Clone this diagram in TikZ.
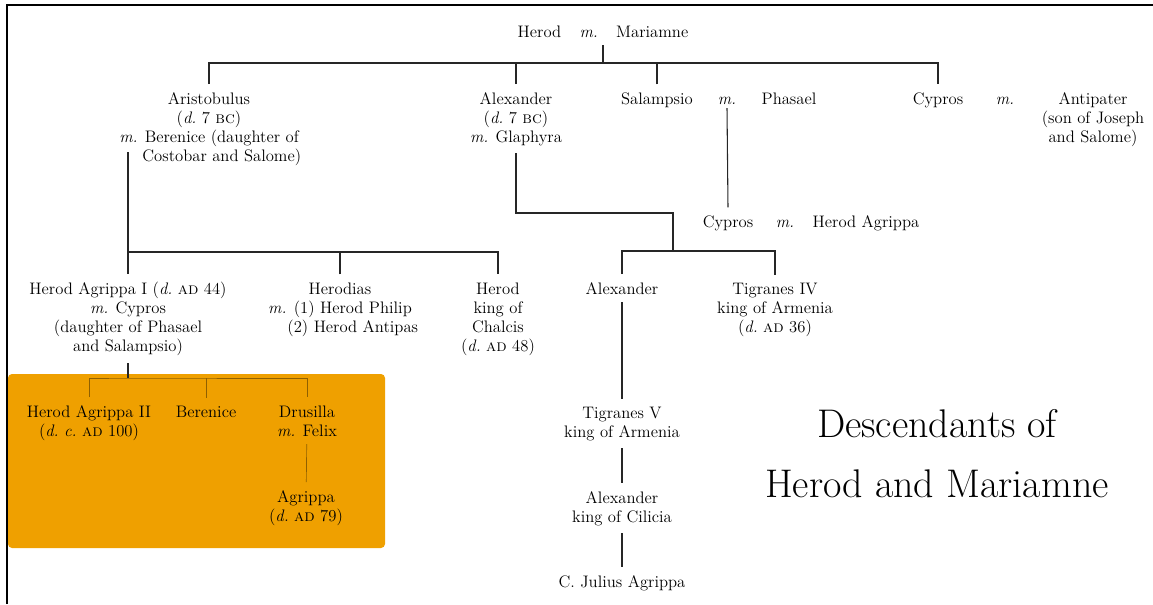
\documentclass[tikz,border=0pt]{standalone}
\usepackage{amsmath}
\usepackage{tikz}
\definecolor{boxorange}{RGB}{239,160,0}
\newcommand{\chartfont}{\fontsize{12.5}{14.25}\selectfont}
\newcommand{\titlefont}{\fontsize{30}{44.5}\selectfont}

\begin{document}
\begin{tikzpicture}[x=0.75pt,y=0.75pt,yscale=-1,xscale=1,
  person/.style={align=center,inner sep=0pt,outer sep=6pt,font=\chartfont},
  wed/.style={inner sep=0pt,outer sep=3pt,font=\chartfont\itshape},
  link/.style={line width=0.8pt,black!85},
  kidlink/.style={line width=0.5pt,boxorange!60!black}]
\useasboundingbox (0,0) rectangle (1153,604);

% frame and highlight
\draw[line width=1.2pt] (7,604) -- (7,5) -- (1153,5);
\fill[boxorange,rounded corners=3pt] (8,374) rectangle (385,548);

% Text Node (placed at the baseline of the last line)
\node[person,anchor=base] (couple) at (603,37) {Herod\hspace{1.1em}\textit{m.}\hspace{1.1em}Mariamne};
% Text Node
\node[person,anchor=base] (aristobulus) at (209,161) {Aristobulus\\(\textit{d.}~7~\textsc{bc})\\\textit{m.} Berenice (daughter of\\\phantom{\textit{m.} }Costobar and Salome)};
% Text Node
\node[person,anchor=base] (alexander) at (516,142) {Alexander\\(\textit{d.}~7~\textsc{bc})\\\textit{m.} Glaphyra};
% Text Node
\node[person,anchor=base] (salampsio) at (657,104) {Salampsio};
\node[wed,anchor=base] (salm) at (727,104) {m.};
\node[person,anchor=base] (phasael) at (789,104) {Phasael};
% Text Node
\node[person,anchor=base] (cypros) at (938,104) {Cypros};
\node[wed,anchor=base] (cypm) at (1005,104) {m.};
\node[person,anchor=base] (antipater) at (1093,142) {Antipater\\(son of Joseph\\and Salome)};
% Text Node
\node[person,anchor=base] (cypros2) at (728,227) {Cypros};
\node[wed,anchor=base] (cyp2m) at (785,227) {m.};
\node[person,anchor=base] (hagrippa) at (866,227) {Herod Agrippa};
% Text Node
\node[person,anchor=base] (hagrippa1) at (128,351) {Herod Agrippa I (\textit{d.}~\textsc{ad}~44)\\\textit{m.} Cypros\\(daughter of Phasael\\and Salampsio)};
\node[person,anchor=base] (herodias) at (340,332) {Herodias\\\textit{m.} (1) Herod Philip\\\phantom{\textit{m.} }(2) Herod Antipas};
\node[person,anchor=base] (herodk) at (498,351) {Herod\\king of\\Chalcis\\(\textit{d.}~\textsc{ad}~48)};
\node[person,anchor=base] (alex2) at (622,294) {Alexander};
\node[person,anchor=base] (tigranes4) at (775,332) {Tigranes IV\\king of Armenia\\(\textit{d.}~\textsc{ad}~36)};
% Text Node
\node[person,anchor=base] (tigranes5) at (622,437) {Tigranes V\\king of Armenia};
\node[person,anchor=base] (alexcil) at (622,522) {Alexander\\king of Cilicia};
\node[person,anchor=base] (julius) at (622,587) {C. Julius Agrippa};
% Text Node
\node[person,anchor=base] (hagrippa2) at (89,436) {Herod Agrippa II\\(\textit{d.}~\textit{c.}~\textsc{ad}~100)};
\node[person,anchor=base] (berenice) at (206,417) {Berenice};
\node[person,anchor=base] (drusilla) at (307,436) {Drusilla\\\textit{m.} Felix};
\node[person,anchor=base] (agrippa) at (306,521) {Agrippa\\(\textit{d.}~\textsc{ad}~79)};
% Text Node
\node[anchor=base,align=center,inner sep=0pt,font=\titlefont] (title) at (937,497) {Descendants of\\Herod and Mariamne};

% junctions
\coordinate (bar1) at (603,63);
\coordinate (arisleg) at (128,152);
\coordinate (bar2) at (128,252);
\coordinate (bar3) at (673,213);
\coordinate (bar4) at (673,251);
\coordinate (bar5) at (128,378);

% Straight Lines
\draw[link] (couple.south) -- (bar1);
\draw[link] (aristobulus.north) |- (bar1) -| (cypros.north);
\draw[link] (alexander.north) -- (alexander.north |- bar1);
\draw[link] (salampsio.north) -- (salampsio.north |- bar1);
\draw[link] (salm.south) -- (cypros2.north);
\draw[link] (arisleg) -- (bar2) -| (herodk.north);
\draw[link] (herodias.north) -- (herodias.north |- bar2);
\draw[link] (hagrippa1.north) -- (bar2);
\draw[link] (alexander.south) |- (bar3) -- (bar4);
\draw[link] (alex2.north) |- (bar4) -| (tigranes4.north);
\draw[link] (alex2) -- (tigranes5);
\draw[link] (tigranes5) -- (alexcil);
\draw[link] (alexcil) -- (julius);
\draw[link] (hagrippa1.south) -- (bar5);
\draw[kidlink] (hagrippa2.north) |- (bar5) -| (drusilla.north);
\draw[kidlink] (berenice.north) -- (berenice.north |- bar5);
\draw[kidlink] (drusilla) -- (agrippa);

\end{tikzpicture}
\end{document}
